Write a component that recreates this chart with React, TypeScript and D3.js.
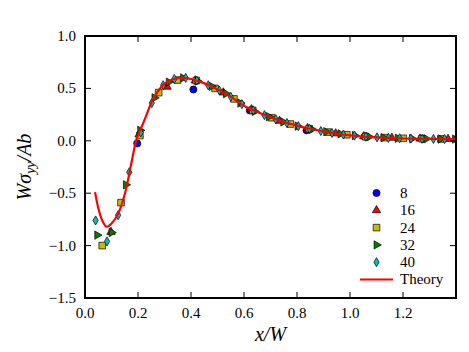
import React from "react";
import * as d3 from "d3";

// ---- data ----
const xTicks = [0, 0.2, 0.4, 0.6, 0.8, 1.0, 1.2];
const yTicks = [-1.5, -1.0, -0.5, 0.0, 0.5, 1.0];

const s8X = [0.197, 0.409, 0.622, 0.836, 1.055, 1.275];
const s8Y = [-0.025, 0.49, 0.29, 0.1, 0.04, 0.02];

const s16X = [0.098, 0.204, 0.31, 0.416, 0.522, 0.628, 0.734, 0.84, 0.946, 1.052, 1.158, 1.264, 1.37];
const s16Y = [-0.87, 0.06, 0.515, 0.575, 0.46, 0.3, 0.19, 0.12, 0.07, 0.042, 0.028, 0.02, 0.017];

const s24X = [0.065, 0.136, 0.207, 0.278, 0.349, 0.42, 0.491, 0.562, 0.633, 0.704, 0.775, 0.846, 0.917, 0.988, 1.059, 1.13, 1.201, 1.272, 1.343];
const s24Y = [-1.0, -0.59, 0.05, 0.46, 0.58, 0.575, 0.5, 0.4, 0.29, 0.22, 0.16, 0.115, 0.083, 0.058, 0.04, 0.03, 0.024, 0.02, 0.018];

const s32X = [0.046, 0.1, 0.154, 0.208, 0.262, 0.316, 0.37, 0.424, 0.478, 0.532, 0.586, 0.64, 0.694, 0.748, 0.802, 0.856, 0.91, 0.964, 1.018, 1.072, 1.126, 1.18, 1.234, 1.288, 1.342, 1.396];
const s32Y = [-0.9, -0.875, -0.42, 0.1, 0.41, 0.56, 0.6, 0.57, 0.52, 0.45, 0.36, 0.28, 0.23, 0.18, 0.14, 0.11, 0.087, 0.066, 0.05, 0.038, 0.03, 0.024, 0.021, 0.019, 0.017, 0.016];

const s40X = [0.04, 0.083, 0.125, 0.167, 0.21, 0.252, 0.295, 0.337, 0.38, 0.422, 0.465, 0.507, 0.55, 0.592, 0.635, 0.677, 0.72, 0.762, 0.805, 0.847, 0.89, 0.932, 0.975, 1.017, 1.06, 1.102, 1.145, 1.187, 1.23, 1.272, 1.315, 1.357, 1.4];
const s40Y = [-0.76, -0.96, -0.71, -0.3, 0.08, 0.36, 0.53, 0.59, 0.6, 0.575, 0.53, 0.48, 0.42, 0.35, 0.29, 0.245, 0.205, 0.17, 0.14, 0.115, 0.093, 0.075, 0.06, 0.05, 0.04, 0.033, 0.028, 0.024, 0.021, 0.019, 0.018, 0.017, 0.017];

const theoryX = [0.038, 0.05, 0.065, 0.082, 0.1, 0.126, 0.151, 0.176, 0.195, 0.22, 0.258, 0.28, 0.302, 0.33, 0.358, 0.4, 0.434, 0.472, 0.5, 0.535, 0.6, 0.623, 0.66, 0.7, 0.75, 0.8, 0.85, 0.9, 0.943, 1.0, 1.1, 1.2, 1.3, 1.4];
const theoryY = [-0.49, -0.64, -0.76, -0.82, -0.79, -0.69, -0.5, -0.2, 0.02, 0.17, 0.405, 0.49, 0.548, 0.585, 0.6, 0.59, 0.565, 0.525, 0.49, 0.445, 0.335, 0.305, 0.265, 0.225, 0.18, 0.145, 0.115, 0.09, 0.07, 0.052, 0.032, 0.022, 0.018, 0.016];

const W = 469, H = 352;
const margin = { left: 85, right: 13, top: 36, bottom: 54 };
const serif = { fontFamily: "'Liberation Serif'" };

const fmt = (v: number) => d3.format(".1f")(v).replace("-", "\u2212");

// marker builders (matplotlib-ish)
const circlePath = d3.symbol(d3.symbolCircle, 40)()!;
const squarePath = d3.symbol(d3.symbolSquare, 44)()!;
const triPath = d3.symbol(d3.symbolTriangle, 30)()!;
const diamondPath = d3.symbol(d3.symbolDiamond, 24)()!;

const series = [
  { label: "8", xs: s8X, ys: s8Y, fill: "#0000ff", path: circlePath, rot: 0 },
  { label: "16", xs: s16X, ys: s16Y, fill: "#ff0000", path: triPath, rot: 0 },
  { label: "24", xs: s24X, ys: s24Y, fill: "#bfbf00", path: squarePath, rot: 0 },
  { label: "32", xs: s32X, ys: s32Y, fill: "#008000", path: triPath, rot: 90 },
  { label: "40", xs: s40X, ys: s40Y, fill: "#00bfbf", path: diamondPath, rot: 0 },
];

export default function App() {
  const x = d3.scaleLinear().domain([0, 1.4]).range([margin.left, W - margin.right]);
  const y = d3.scaleLinear().domain([-1.5, 1.0]).range([H - margin.bottom, margin.top]);
  const x0 = x.range()[0], x1 = x.range()[1];
  const y0 = y.range()[0], y1 = y.range()[1];

  const line = d3
    .line<number>()
    .x((_, i) => x(theoryX[i]))
    .y((d) => y(d))
    .curve(d3.curveCatmullRom.alpha(0.5));

  const tickLen = 6;
  const legX = 376.5, legY = 193, legStep = 17.3;

  return (
    <svg width={W} height={H} style={{ position: "absolute", left: 0, top: 0 }}>
      <rect width={W} height={H} fill="#fff" />
      <defs>
        <clipPath id="plot">
          <rect x={x0} y={y1} width={x1 - x0} height={y0 - y1} />
        </clipPath>
      </defs>

      <g clipPath="url(#plot)">
        {series.map((s) => (
          <g key={s.label}>
            {s.xs.map((xv, i) => (
              <path
                key={i}
                d={s.path}
                transform={`translate(${x(xv)},${y(s.ys[i])}) rotate(${s.rot})`}
                fill={s.fill}
                stroke="#000"
                strokeWidth={0.7}
              />
            ))}
          </g>
        ))}
        <path d={line(theoryY)!} fill="none" stroke="#ff0000" strokeWidth={2.2} />
      </g>

      {/* ticks on all four sides, pointing in */}
      {xTicks.map((t) => (
        <g key={"x" + t}>
          <line x1={x(t)} x2={x(t)} y1={y0} y2={y0 - tickLen} stroke="#000" />
          <line x1={x(t)} x2={x(t)} y1={y1} y2={y1 + tickLen} stroke="#000" />
          <text x={x(t)} y={317.5} fontSize={15} textAnchor="middle" style={serif}>{fmt(t)}</text>
        </g>
      ))}
      {yTicks.map((t) => (
        <g key={"y" + t}>
          <line x1={x0} x2={x0 + tickLen} y1={y(t)} y2={y(t)} stroke="#000" />
          <line x1={x1} x2={x1 - tickLen} y1={y(t)} y2={y(t)} stroke="#000" />
          <text x={76} y={y(t)} dy="0.33em" fontSize={15} textAnchor="end" style={serif}>{fmt(t)}</text>
        </g>
      ))}

      <rect x={x0} y={y1} width={x1 - x0} height={y0 - y1} fill="none" stroke="#000" strokeWidth={2} />

      {/* axis labels */}
      <text x={(x0 + x1) / 2} y={341} fontSize={20} fontStyle="italic" textAnchor="middle" style={serif}>
        x/W
      </text>
      <text transform={`translate(31,${(y0 + y1) / 2}) rotate(-90)`} fontSize={20} fontStyle="italic" textAnchor="middle" style={serif}>
        Wσ<tspan fontSize={14} dy={4}>yy</tspan>
        <tspan dy={-4}>/Ab</tspan>
      </text>

      {/* legend */}
      <g>
        {series.map((s, i) => (
          <g key={s.label} transform={`translate(0,${legY + i * legStep})`}>
            <path d={s.path} transform={`translate(${legX},0) rotate(${s.rot})`} fill={s.fill} stroke="#000" strokeWidth={0.7} />
            <text x={400} y={0} dy="0.33em" fontSize={15} style={serif}>{s.label}</text>
          </g>
        ))}
        <g transform={`translate(0,${legY + 5 * legStep})`}>
          <line x1={360} x2={393} y1={0} y2={0} stroke="#ff0000" strokeWidth={2.2} />
          <text x={400} y={0} dy="0.33em" fontSize={15} style={serif}>Theory</text>
        </g>
      </g>
    </svg>
  );
}
